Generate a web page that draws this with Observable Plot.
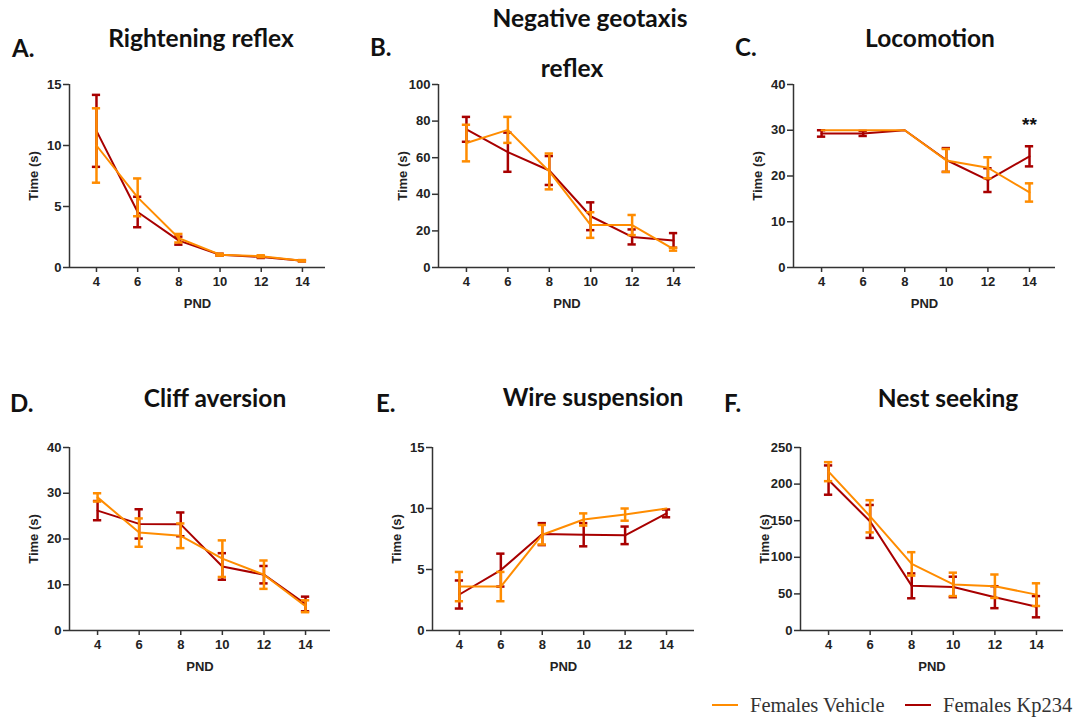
<!DOCTYPE html>
<html>
<head>
<meta charset="utf-8">
<script src="https://cdn.jsdelivr.net/npm/d3@7"></script>
<script src="https://cdn.jsdelivr.net/npm/@observablehq/plot@0.6"></script>
<style>
  html, body { margin: 0; padding: 0; background: #fff; }
  #root { position: relative; width: 1082px; height: 720px; overflow: hidden; }
  .pan { position: absolute; }
  .pan svg { font-family: "Liberation Sans", Arial, sans-serif !important; }
  .pan svg g[aria-label*="axis"] text { font-family: "Liberation Sans", Arial, sans-serif !important; font-weight: bold !important; font-size: 13px !important; fill: #222; }
  .ttl { position: absolute; font-family: Lato, "Open Sans", sans-serif; font-weight: bold; font-size: 24.5px; color: #111; white-space: nowrap; line-height: 24px; transform: translateX(-50%); }
  .let { position: absolute; font-family: Lato, "Open Sans", sans-serif; font-weight: bold; font-size: 24px; color: #111; line-height: 24px; }
  .leg { position: absolute; font-family: "Liberation Serif", "Times New Roman", serif; font-size: 20.5px; color: #333; line-height: 20px; white-space: nowrap; display: flex; align-items: center; }
  .leg span.sw { display: inline-block; width: 26px; height: 2px; margin-right: 12px; }
</style>
</head>
<body>
<div id="root"></div>
<script>
// ---------- data ----------
const pnd = [4, 6, 8, 10, 12, 14];
const groups = ["Females Vehicle", "Females Kp234"];
const colors = ["#ff8c00", "#a80000"];

// A. Rightening reflex
const rightVehMean = [10.0, 5.75, 2.4, 1.05, 0.92, 0.55];
const rightVehSem  = [3.05, 1.55, 0.35, 0.08, 0.08, 0.05];
const rightKpMean  = [11.2, 4.55, 2.2, 1.05, 0.86, 0.55];
const rightKpSem   = [2.95, 1.25, 0.33, 0.08, 0.08, 0.05];

// B. Negative geotaxis reflex
const geoVehMean = [68.0, 75.2, 52.5, 23.2, 23.2, 10.0];
const geoVehSem  = [10.0, 7.1, 9.8, 7.0, 5.5, 0.8];
const geoKpMean  = [75.5, 63.0, 53.0, 28.0, 16.7, 14.8];
const geoKpSem   = [6.8, 10.7, 7.9, 7.6, 4.1, 4.0];

// C. Locomotion
const locoVehMean = [30.0, 30.0, 30.0, 23.4, 21.8, 16.4];
const locoVehSem  = [0.0, 0.0, 0.0, 2.5, 2.3, 2.0];
const locoKpMean  = [29.3, 29.3, 30.0, 23.5, 19.1, 24.3];
const locoKpSem   = [0.7, 0.55, 0.0, 2.6, 2.6, 2.2];
const locoSig = [{pnd: 14, value: 31.2, label: "**"}];

// D. Cliff aversion
const cliffVehMean = [29.1, 21.4, 20.7, 15.7, 12.2, 5.3];
const cliffVehSem  = [0.9, 3.1, 2.7, 4.0, 3.1, 1.3];
const cliffKpMean  = [26.2, 23.3, 23.2, 14.0, 12.2, 5.8];
const cliffKpSem   = [2.1, 3.2, 2.6, 2.9, 1.9, 1.6];

// E. Wire suspension
const wireVehMean = [3.6, 3.6, 7.85, 9.1, 9.5, 10.0];
const wireVehSem  = [1.2, 1.2, 0.8, 0.5, 0.5, 0.0];
const wireKpMean  = [2.95, 4.95, 7.9, 7.85, 7.8, 9.6];
const wireKpSem   = [1.15, 1.35, 0.9, 0.95, 0.72, 0.32];

// F. Nest seeking
const nestVehMean = [217, 156, 91, 63, 60.5, 49];
const nestVehSem  = [13, 22, 16, 16, 16, 15.5];
const nestKpMean  = [205.5, 149, 61, 59.5, 45.5, 32.5];
const nestKpSem   = [20, 22.5, 17, 14, 15, 14.5];

// ---------- drawing ----------
const root = document.getElementById("root");

function rows(vm, vs, km, ks) {
  const out = [];
  pnd.forEach((p, i) => out.push({pnd: p, group: groups[1], mean: km[i], sem: ks[i]}));
  pnd.forEach((p, i) => out.push({pnd: p, group: groups[0], mean: vm[i], sem: vs[i]}));
  return out;
}

function panel(cfg) {
  const data = rows(cfg.vm, cfg.vs, cfg.km, cfg.ks);
  const capHalf = 0.2;
  const marks = [
    Plot.ruleY([cfg.yDomain[0]], {stroke: "#333", strokeWidth: 1.5}),
    Plot.ruleX([cfg.xDomain[0]], {stroke: "#333", strokeWidth: 1.5}),
    Plot.axisX({ticks: pnd, tickSize: 5, tickPadding: 4, strokeWidth: 1.5, stroke: "#333",
      fontSize: 13, fontWeight: "bold", fontFamily: "Liberation Sans, Arial, sans-serif",
      label: "PND", labelAnchor: "center", labelArrow: "none", labelOffset: 40}),
    Plot.axisY({ticks: cfg.yTicks, tickSize: 6, tickPadding: 2, strokeWidth: 1.5, stroke: "#333",
      fontSize: 13, fontWeight: "bold", fontFamily: "Liberation Sans, Arial, sans-serif",
      label: "Time (s)", labelAnchor: "center", labelArrow: "none", labelOffset: 41})
  ];
  for (const g of [groups[1], groups[0]]) {
    const sub = data.filter(d => d.group === g);
    const c = colors[groups.indexOf(g)];
    const eb = sub.filter(d => d.sem > 0);
    marks.push(
      Plot.line(sub, {x: "pnd", y: "mean", stroke: c, strokeWidth: 2}),
      Plot.ruleX(eb, {x: "pnd", y1: d => d.mean - d.sem, y2: d => d.mean + d.sem, stroke: c, strokeWidth: 2.5}),
      Plot.ruleY(eb, {y: d => d.mean + d.sem, x1: d => d.pnd - capHalf, x2: d => d.pnd + capHalf, stroke: c, strokeWidth: 2.5}),
      Plot.ruleY(eb, {y: d => d.mean - d.sem, x1: d => d.pnd - capHalf, x2: d => d.pnd + capHalf, stroke: c, strokeWidth: 2.5})
    );
  }
  if (cfg.extra) marks.push(cfg.extra);
  const svg = Plot.plot({
    width: cfg.width, height: 247,
    marginLeft: cfg.ml, marginRight: 15, marginTop: 14, marginBottom: 50,
    x: {domain: cfg.xDomain},
    y: {domain: cfg.yDomain},
    style: {fontFamily: "Arial", fontWeight: "bold", fontSize: "13px", color: "#222", background: "transparent", overflow: "visible"},
    marks
  });
  const wrap = document.createElement("div");
  wrap.className = "pan";
  wrap.style.left = cfg.left + "px";
  wrap.style.top = cfg.top + "px";
  wrap.appendChild(svg);
  root.appendChild(wrap);
}

panel({left: 0, top: 70, width: 340, ml: 69, xDomain: [2.69, 15.12], yDomain: [0, 15], yTicks: [0, 5, 10, 15],
  vm: rightVehMean, vs: rightVehSem, km: rightKpMean, ks: rightKpSem});
panel({left: 370, top: 70, width: 340, ml: 68, xDomain: [2.65, 15.06], yDomain: [0, 100], yTicks: [0, 20, 40, 60, 80, 100],
  vm: geoVehMean, vs: geoVehSem, km: geoKpMean, ks: geoKpSem});
panel({left: 725, top: 70, width: 345, ml: 68, xDomain: [2.65, 15.25], yDomain: [0, 40], yTicks: [0, 10, 20, 30, 40],
  vm: locoVehMean, vs: locoVehSem, km: locoKpMean, ks: locoKpSem,
  extra: Plot.text(locoSig, {x: "pnd", y: "value", text: "label", fontSize: 19, fontWeight: "bold", fill: "#111"})});
panel({left: 0, top: 433, width: 345, ml: 69, xDomain: [2.65, 15.2], yDomain: [0, 40], yTicks: [0, 10, 20, 30, 40],
  vm: cliffVehMean, vs: cliffVehSem, km: cliffKpMean, ks: cliffKpSem});
panel({left: 364, top: 433, width: 345, ml: 68, xDomain: [2.7, 15.35], yDomain: [0, 15], yTicks: [0, 5, 10, 15],
  vm: wireVehMean, vs: wireVehSem, km: wireKpMean, ks: wireKpSem});
panel({left: 730, top: 433, width: 348, ml: 70, xDomain: [2.65, 15.3], yDomain: [0, 250], yTicks: [0, 50, 100, 150, 200, 250],
  vm: nestVehMean, vs: nestVehSem, km: nestKpMean, ks: nestKpSem});

// titles and letters
const titles = [
  {t: "Rightening reflex", x: 201, y: 38},
  {t: "Negative geotaxis", x: 590, y: 18},
  {t: "reflex", x: 572, y: 68},
  {t: "Locomotion", x: 930, y: 38},
  {t: "Cliff aversion", x: 215, y: 398},
  {t: "Wire suspension", x: 593, y: 397},
  {t: "Nest seeking", x: 948, y: 398}
];
const letters = [
  {t: "A.", x: 12, y: 48}, {t: "B.", x: 370, y: 47}, {t: "C.", x: 735, y: 47},
  {t: "D.", x: 10, y: 403}, {t: "E.", x: 376, y: 403}, {t: "F.", x: 724, y: 403}
];
for (const d of titles) {
  const el = document.createElement("div");
  el.className = "ttl"; el.textContent = d.t;
  el.style.left = d.x + "px"; el.style.top = (d.y - 12) + "px";
  root.appendChild(el);
}
for (const d of letters) {
  const el = document.createElement("div");
  el.className = "let"; el.textContent = d.t;
  el.style.left = d.x + "px"; el.style.top = (d.y - 12) + "px";
  root.appendChild(el);
}
// legend
const legPos = [{x: 712, y: 705}, {x: 905, y: 705}];
groups.forEach((g, i) => {
  const el = document.createElement("div");
  el.className = "leg";
  el.style.left = legPos[i].x + "px"; el.style.top = (legPos[i].y - 10) + "px";
  const sw = document.createElement("span");
  sw.className = "sw"; sw.style.background = colors[i];
  el.appendChild(sw);
  el.appendChild(document.createTextNode(g));
  root.appendChild(el);
});
</script>
</body>
</html>
